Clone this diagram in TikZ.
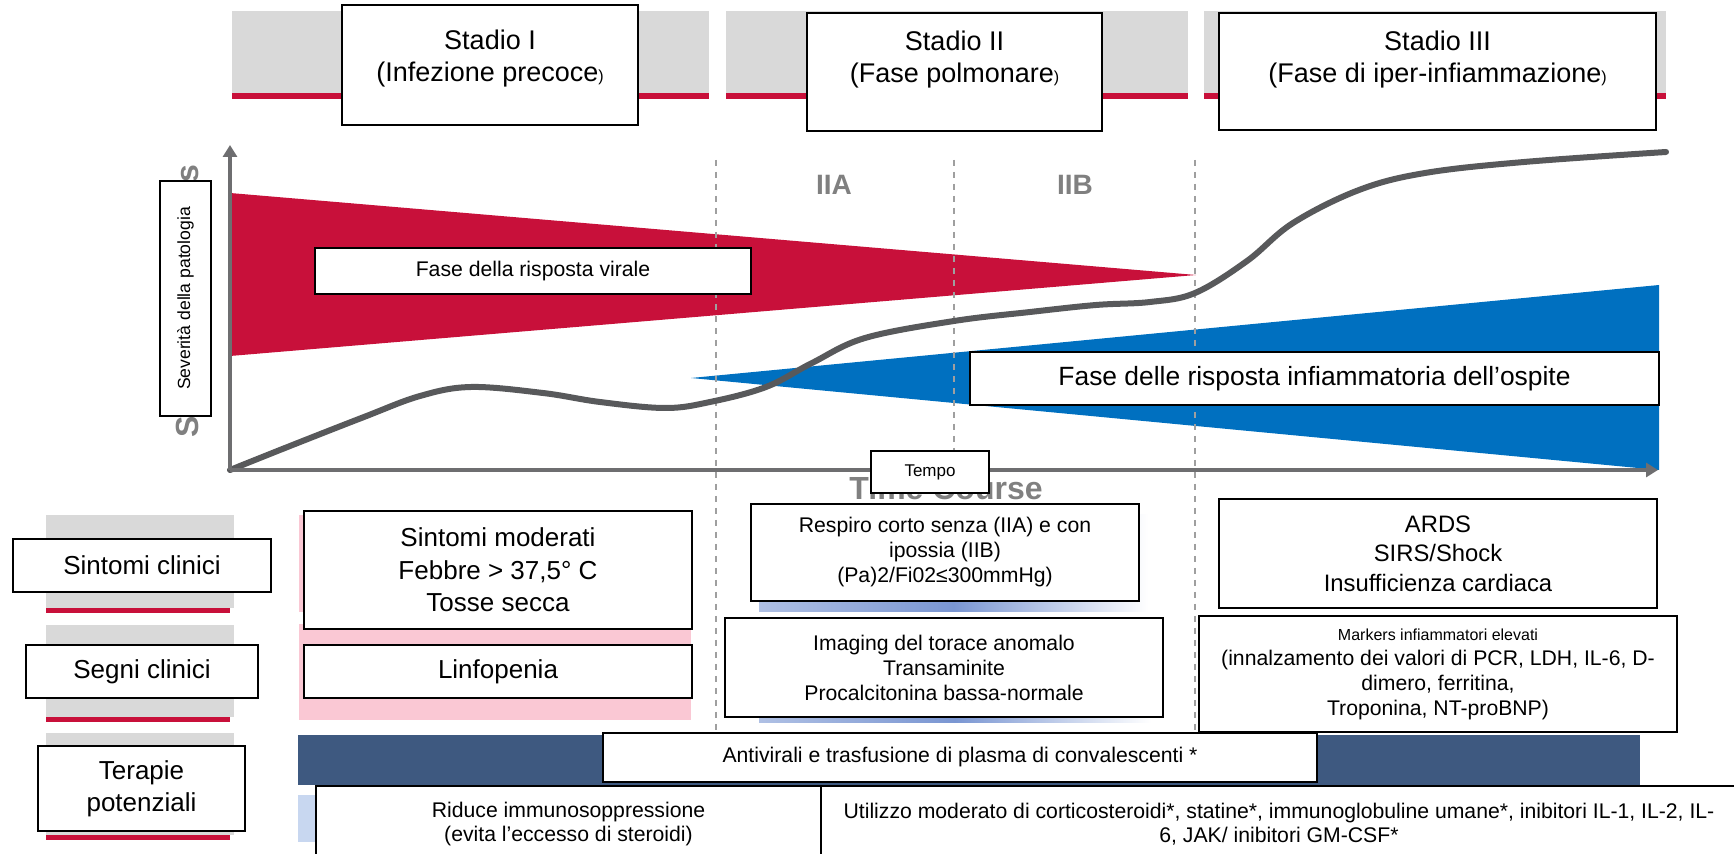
\documentclass[tikz,border=0pt]{standalone}
\usepackage{fontspec}
\setmainfont{Liberation Sans}
\usepackage{tikz}
\usetikzlibrary{arrows.meta, positioning}

\definecolor{bandgray}{RGB}{217,217,217}
\definecolor{crimson}{RGB}{200,16,58}
\definecolor{pinkbg}{RGB}{250,200,212}
\definecolor{navybar}{RGB}{62,89,128}
\definecolor{paleblue}{RGB}{200,215,240}
\definecolor{stripblue}{RGB}{122,150,210}
\definecolor{triblue}{RGB}{0,112,192}
\definecolor{curvegray}{RGB}{88,89,91}
\definecolor{axisgray}{RGB}{110,110,112}
\definecolor{labelgray}{RGB}{128,128,128}

\newcommand{\fsHead}{\fontsize{13.5}{16}\selectfont}
\newcommand{\fsRow}{\fontsize{13}{16.2}\selectfont}
\newcommand{\fsArds}{\fontsize{11.9}{14.8}\selectfont}
\newcommand{\fsCell}{\fontsize{10.6}{12.5}\selectfont}
\newcommand{\fsTher}{\fontsize{10.6}{11.8}\selectfont}
\newcommand{\fsTiny}{\fontsize{8}{10}\selectfont}
\newcommand{\smallparen}{{\fontsize{8}{8}\selectfont)}}

\begin{document}
\begin{tikzpicture}[x=0.5pt, y=-0.5pt]
    % Define styles
    \tikzstyle{box} = [rectangle, draw, line width=1.3pt, fill=white, align=center, inner sep=0pt]
    \tikzstyle{band} = [fill=bandgray]
    \tikzstyle{redline} = [fill=crimson]
    \tikzstyle{divider} = [draw=gray!75, dashed, line width=0.6pt]
    \tikzstyle{axis} = [draw=axisgray, line width=1.6pt, -{Triangle[width=7pt,length=6pt]}]
    \tikzstyle{curve} = [draw=curvegray, line width=3pt, line cap=round]
    \tikzstyle{ghost} = [text=labelgray, font=\fontsize{16}{16}\selectfont\bfseries, inner sep=0pt]
    \tikzstyle{sub} = [text=labelgray, font=\fontsize{14}{14}\selectfont\bfseries]

    \clip (0,0) rectangle (1734,854);

    % Header bands with red underline
    \foreach \a/\b in {232/709, 726/1188, 1204/1666} {
        \fill[band] (\a,11) rectangle (\b,93);
        \fill[redline] (\a,93) rectangle (\b,99);
    }

    % Row label bands
    \foreach \t/\b in {515/608, 625/717, 733/835} {
        \fill[band] (46,\t) rectangle (234,\b);
        \fill[redline] (46,\b) rectangle (230,\b+5);
    }

    % Stage I background (pink)
    \fill[pinkbg] (299,515) rectangle (691,612);
    \fill[pinkbg] (299,624) rectangle (691,720);

    % Stage II background (blue shading)
    \shade[left color=stripblue!60!white, right color=white, middle color=stripblue] (759,515) rectangle (1148,612);
    \shade[left color=stripblue!60!white, right color=white, middle color=stripblue] (759,624) rectangle (1151,722);

    % Therapy bars
    \fill[navybar] (298,735) rectangle (1640,785);
    \fill[paleblue] (298,795) rectangle (821,842);

    % Response phases
    \fill[crimson] (230,193) -- (1196,275) -- (230,356) -- cycle;
    \fill[triblue] (691,378) -- (1659,285) -- (1659,470) -- cycle;

    % Stage dividers
    \foreach \x/\yend in {716/735, 954/470, 1195/735}
        \draw[divider] (\x,160) -- (\x,\yend);

    % Axis titles (partly hidden)
    \node[ghost, rotate=90, anchor=base] (ytitle) at (198,301) {Severity of Illness};
    \node[ghost, anchor=base] (xtitle) at (946,500) {Time Course};

    \node[sub] (iia) at (834,185) {IIA};
    \node[sub] (iib) at (1075,185) {IIB};

    % Disease course
    \draw[curve] plot[smooth, tension=0.6] coordinates {(230,470) (290,446) (364,417) (420,396) (471,387) (543,393) (600,402) (665,408) (710,402) (766,387) (812,363) (865,338) (954,321) (1030,312) (1096,305) (1150,302) (1195,293) (1247,261) (1293,223) (1359,190) (1425,173) (1524,162) (1666,152)};

    % Axes
    \coordinate (origin) at (230,470);
    \coordinate (ytip) at (230,145);
    \coordinate (xtip) at (1658,470);
    \draw[axis] (origin) -- (ytip);
    \draw[axis] (origin) -- (xtip);

    % Stage headers
    \node[box, minimum width=148pt, minimum height=60pt] (stage1) at (490,65) {};
    \node[font=\fsHead, align=center] (stage1txt) at (490,59) {Stadio I\\(Infezione precoce\smallparen};
    \node[box, minimum width=147.5pt, minimum height=59pt] (stage2) at (954.5,72) {};
    \node[font=\fsHead, align=center] (stage2txt) at (954.5,60) {Stadio II\\(Fase polmonare\smallparen};
    \node[box, minimum width=218.5pt, minimum height=58.5pt] (stage3) at (1437.5,71.5) {};
    \node[font=\fsHead, align=center] (stage3txt) at (1437.5,60) {Stadio III\\(Fase di iper-infiammazione\smallparen};

    % Chart labels
    \node[box, rotate=90, minimum width=117.5pt, minimum height=25.5pt, font=\fontsize{8.8}{10}\selectfont] (sev) at (185.5,298.5) {Severità della patologia};
    \node[box, minimum width=218pt, minimum height=23pt, font=\fsCell] (fvir) at (533,271) {Fase della risposta virale};
    \node[box, minimum width=344.5pt, minimum height=26.5pt, font=\fontsize{13.2}{15}\selectfont] (finf) at (1314.5,378.5) {Fase delle risposta infiammatoria dell’ospite};
    \node[box, minimum width=59pt, minimum height=21pt, font=\fontsize{8.5}{10}\selectfont] (tempo) at (930,472) {Tempo};

    % Row labels
    \node[box, minimum width=129pt, minimum height=26.5pt, font=\fsRow] (sinc) at (142,565.5) {Sintomi clinici};
    \node[box, minimum width=116pt, minimum height=26.5pt, font=\fsRow] (segc) at (142,671.5) {Segni clinici};
    \node[box, minimum width=103.5pt, minimum height=42.5pt, font=\fsRow] (terp) at (141.5,788.5) {Terapie\\potenziali};

    % Stage I cells
    \node[box, minimum width=194pt, minimum height=59pt, font=\fsRow] (sinm) at (498,570) {Sintomi moderati\\Febbre > 37,5° C\\Tosse secca};
    \node[box, minimum width=194pt, minimum height=26.5pt, font=\fsRow] (linf) at (498,671.5) {Linfopenia};

    % Stage II cells
    \node[box, minimum width=194pt, minimum height=48.5pt, font=\fsCell] (resp) at (945,552.5) {Respiro corto senza (IIA) e con\\ipossia (IIB)\\(Pa)2/Fi02≤300mmHg)};
    \node[box, minimum width=219pt, minimum height=49.5pt, font=\fsCell] (imag) at (944,667.5) {Imaging del torace anomalo\\Transaminite\\Procalcitonina bassa-normale};

    % Stage III cells
    \node[box, minimum width=219pt, minimum height=54.5pt, font=\fsArds] (ards) at (1438,553.5) {ARDS\\SIRS/Shock\\Insufficienza cardiaca};
    \node[box, minimum width=239pt, minimum height=58pt, font=\fsCell] (mark) at (1438,674) {{\fsTiny Markers infiammatori elevati}\\(innalzamento dei valori di PCR, LDH, IL-6, D-\\dimero, ferritina,\\Troponina, NT-proBNP)};

    % Therapies
    \node[box, minimum width=357pt, minimum height=24.5pt, font=\fsTher] (anti) at (960,757.5) {Antivirali e trasfusione di plasma di convalescenti *};
    \node[box, minimum width=252.5pt, minimum height=38pt, font=\fsTher] (ridu) at (568.5,824) {Riduce immunosoppressione\\(evita l’eccesso di steroidi)};
    \node[box, minimum width=458pt, minimum height=38pt, font=\fsTher] (util) at (1279,824) {Utilizzo moderato di corticosteroidi*, statine*, immunoglobuline umane*, inibitori IL-1, IL-2, IL-\\6, JAK/ inibitori GM-CSF*};

\end{tikzpicture}
\end{document}
